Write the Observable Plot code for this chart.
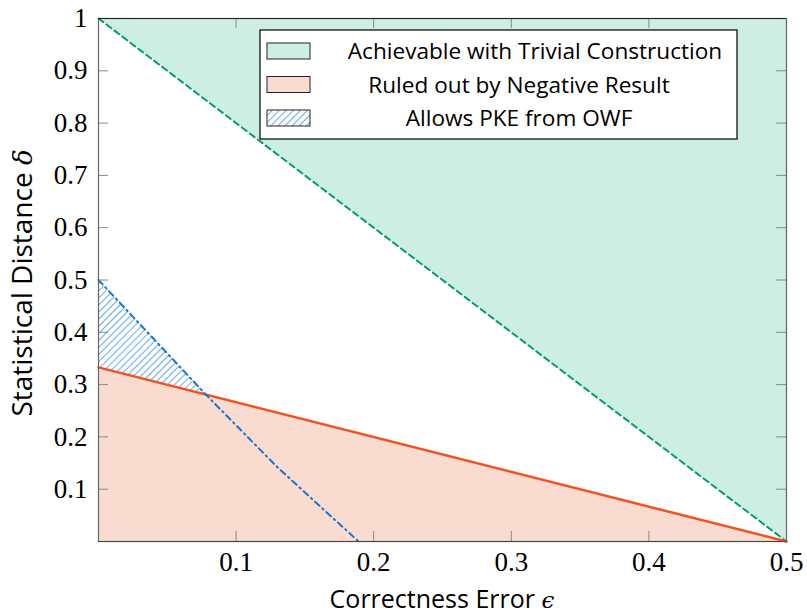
<!DOCTYPE html>
<html>
<head>
<meta charset="utf-8">
<script src="https://cdn.jsdelivr.net/npm/d3@7"></script>
<script src="https://cdn.jsdelivr.net/npm/@observablehq/plot@0.6"></script>
<style>
  html, body { margin: 0; padding: 0; background: white; }
  #chart { width: 807px; height: 614px; }
  .serif-text text, text.serif-text { font-family: 'Liberation Serif', serif !important; }
  .sans-text { font-family: 'Open Sans', sans-serif !important; }
  .math-text { font-family: 'DejaVu Serif', serif !important; font-style: italic; }
</style>
</head>
<body>
<div id="chart"></div>
<script>
// Boundary of the region achievable with the trivial construction
const trivialEps = [0, 0.5];
const trivialDelta = [1, 0];
// Boundary ruled out by the negative result
const negativeEps = [0, 0.5];
const negativeDelta = [0.333, 0];
// Boundary of PKE-from-OWF region (dash-dot curve)
const pkeEps = [0, 0.078, 0.13, 0.189];
const pkeDelta = [0.5, 0.281, 0.142, 0];
// Hatched region: between the PKE curve and the negative-result line, up to their crossing
const hatchEps = [0, 0.078];
const hatchUpper = [0.5, 0.281];
const hatchLower = [0.333, 0.281];

const xTicks = [0.1, 0.2, 0.3, 0.4, 0.5];
const yTicks = [0.1, 0.2, 0.3, 0.4, 0.5, 0.6, 0.7, 0.8, 0.9, 1];
const xTickLabels = ["0.1", "0.2", "0.3", "0.4", "0.5"];
const yTickLabels = ["0.1", "0.2", "0.3", "0.4", "0.5", "0.6", "0.7", "0.8", "0.9", "1"];

const legendLabels = ["Achievable with Trivial Construction", "Ruled out by Negative Result", "Allows PKE from OWF"];
const xLabel = "Correctness Error ";
const yLabel = "Statistical Distance ";

const green = "#009e73", greenFill = "#cdeee3";
const orange = "#f4511e", orangeFill = "#fadbd0";
const blue = "#1874cd", hatchBlue = "#1f86ec";

const trivialRows = trivialEps.map((e, i) => ({e, d: trivialDelta[i]}));
const negativeRows = negativeEps.map((e, i) => ({e, d: negativeDelta[i]}));
const pkeRows = pkeEps.map((e, i) => ({e, d: pkeDelta[i]}));
const hatchRows = hatchEps.map((e, i) => ({e, lo: hatchLower[i], hi: hatchUpper[i]}));
const xTickRows = xTicks.map((v, i) => ({v, t: xTickLabels[i]}));
const yTickRows = yTicks.map((v, i) => ({v, t: yTickLabels[i]}));

const W = 807, H = 614, mL = 98, mR = 21, mT = 18, mB = 73;
const innerW = W - mL - mR, innerH = H - mT - mB;
const tickLen = 10;
const serif = "Liberation Serif";
const sans = "Open Sans";

const plot = Plot.plot({
  width: W, height: H,
  marginLeft: mL, marginRight: mR, marginTop: mT, marginBottom: mB,
  x: {domain: [0, 0.5], axis: null},
  y: {domain: [0, 1], axis: null},
  style: {background: "white", color: "black"},
  marks: [
    Plot.areaY(trivialRows, {x: "e", y1: "d", y2: 1, fill: greenFill}),
    Plot.areaY(negativeRows, {x: "e", y1: 0, y2: "d", fill: orangeFill}),
    Plot.areaY(hatchRows, {x: "e", y1: "lo", y2: "hi", fill: "url(#hatch)"}),
    Plot.line(trivialRows, {x: "e", y: "d", stroke: green, strokeWidth: 2, strokeDasharray: "6,4"}),
    Plot.line(negativeRows, {x: "e", y: "d", stroke: orange, strokeWidth: 2.5}),
    Plot.line(pkeRows, {x: "e", y: "d", stroke: blue, strokeWidth: 2, strokeDasharray: "6,4,1.5,4"}),
    // inward ticks on all four sides
    Plot.tickX(xTicks, {x: d => d, insetTop: innerH - tickLen, stroke: "#888", strokeWidth: 1}),
    Plot.tickX(xTicks, {x: d => d, insetBottom: innerH - tickLen, stroke: "#888", strokeWidth: 1}),
    Plot.tickY(yTicks, {y: d => d, insetRight: innerW - tickLen, stroke: "#888", strokeWidth: 1}),
    Plot.tickY(yTicks, {y: d => d, insetLeft: innerW - tickLen, stroke: "#888", strokeWidth: 1}),
    Plot.frame({stroke: "#666", strokeWidth: 1.2}),
    Plot.ruleY([1], {stroke: "#222", strokeWidth: 1.2}),
    Plot.ruleY([0], {stroke: "#444", strokeWidth: 1.2}),
    // tick labels
    Plot.text(xTickRows, {x: "v", text: "t", frameAnchor: "bottom", lineAnchor: "top", dy: 10,
      fontSize: 27, fontFamily: serif, fill: "black", className: "serif-text"}),
    Plot.text(yTickRows, {y: "v", text: "t", frameAnchor: "left", textAnchor: "end", dx: -11,
      fontSize: 27, fontFamily: serif, fill: "black", className: "serif-text"}),
  ]
});

document.getElementById("chart").appendChild(plot);

const svg = d3.select(plot);
const defs = svg.insert("defs", ":first-child");
const pat = defs.append("pattern")
  .attr("id", "hatch").attr("patternUnits", "userSpaceOnUse")
  .attr("width", 5).attr("height", 5)
  .attr("patternTransform", "rotate(45)");
pat.append("line").attr("x1", 0).attr("y1", 0).attr("x2", 0).attr("y2", 5)
  .attr("stroke", hatchBlue).attr("stroke-width", 1.4);

// axis titles
const xt = svg.append("text")
  .attr("class", "sans-text")
  .attr("x", mL + innerW / 2).attr("y", 608)
  .attr("text-anchor", "middle")
  .attr("font-size", 25);
xt.append("tspan").text(xLabel);
xt.append("tspan").attr("class", "math-text").attr("font-size", 23).text("ϵ");

const yt = svg.append("text")
  .attr("class", "sans-text")
  .attr("transform", `translate(32,283) rotate(-90)`)
  .attr("text-anchor", "middle")
  .attr("font-size", 28);
yt.append("tspan").text(yLabel);
yt.append("tspan").attr("class", "math-text").attr("font-size", 26).text("δ");

// legend
const lg = svg.append("g");
lg.append("rect").attr("x", 260).attr("y", 30).attr("width", 477).attr("height", 109)
  .attr("fill", "white").attr("stroke", "black").attr("stroke-width", 1.2);
const rowY = [51, 84.5, 118];
const swFill = [greenFill, orangeFill, "url(#hatch)"];
const textCx = [535, 519, 519];
legendLabels.forEach((t, i) => {
  lg.append("rect").attr("x", 267).attr("y", rowY[i] - 8).attr("width", 43).attr("height", 16)
    .attr("fill", swFill[i]).attr("stroke", "#222").attr("stroke-width", 1);
  lg.append("text").attr("class", "sans-text").attr("x", textCx[i]).attr("y", rowY[i] + 8)
    .attr("text-anchor", "middle")
    .attr("font-size", 22.6).text(t);
});
</script>
</body>
</html>
